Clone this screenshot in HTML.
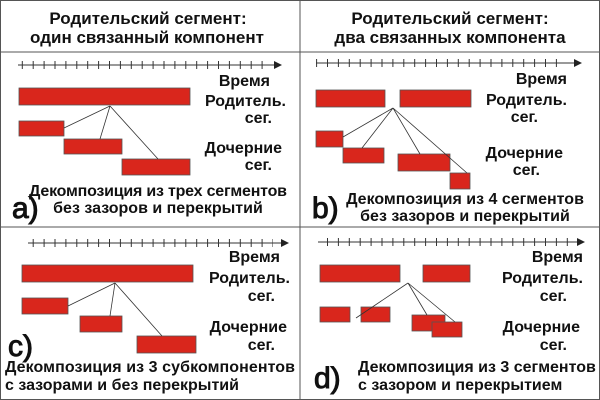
<!DOCTYPE html>
<html><head><meta charset="utf-8"><style>body{margin:0;background:#fff}svg{display:block}</style></head><body>
<svg width="600" height="400" viewBox="0 0 600 400" xmlns="http://www.w3.org/2000/svg" font-family="Liberation Sans, sans-serif" font-weight="bold" fill="#111">
<defs>
<pattern id="tk" width="10.9" height="10" patternUnits="userSpaceOnUse"><line x1="0.5" y1="0" x2="0.5" y2="10" stroke="#333" stroke-width="1"/></pattern>
</defs>
<rect x="0.5" y="0.5" width="599" height="399" fill="none" stroke="#555"/>
<line x1="300" y1="0" x2="300" y2="400" stroke="#555"/>
<line x1="0" y1="227" x2="600" y2="227" stroke="#555"/>
<line x1="0" y1="52" x2="600" y2="52" stroke="#555"/>
<g font-size="17" text-anchor="middle">
<text x="148" y="24">Родительский сегмент:</text>
<text x="147" y="43">один связанный компонент</text>
<text x="450" y="24">Родительский сегмент:</text>
<text x="450" y="43">два связанных компонента</text>
</g>
<g stroke="#333">
<line x1="18" y1="65" x2="275" y2="65"/><rect x="18" y="61" width="250" height="8" fill="url(#tk)" stroke="none"/>
<line x1="316" y1="63" x2="575" y2="63"/><rect x="316" y="59" width="250" height="8" fill="url(#tk)" stroke="none"/>
<line x1="28" y1="243" x2="282" y2="243"/><rect x="28" y="239" width="245" height="8" fill="url(#tk)" stroke="none"/>
<line x1="318" y1="242" x2="578" y2="242"/><rect x="318" y="238" width="250" height="8" fill="url(#tk)" stroke="none"/>
</g>
<g fill="#222"><path d="M282,65 l-8,-4 v8z"/><path d="M582,63 l-8,-4 v8z"/><path d="M289,243 l-8,-4 v8z"/><path d="M585,242 l-8,-4 v8z"/></g>
<g font-size="16" text-anchor="end">
<text x="270" y="86">Время</text><text x="286" y="106">Родитель.</text><text x="272" y="123">сег.</text><text x="282" y="153">Дочерние</text><text x="272" y="170">сег.</text>
<text x="567" y="84">Время</text><text x="567" y="105">Родитель.</text><text x="538" y="122">сег.</text><text x="563" y="158">Дочерние</text><text x="540" y="175">сег.</text>
<text x="280" y="262">Время</text><text x="290" y="283">Родитель.</text><text x="275" y="301">сег.</text><text x="287" y="332">Дочерние</text><text x="275" y="350">сег.</text>
<text x="583" y="262">Время</text><text x="583" y="283">Родитель.</text><text x="567" y="301">сег.</text><text x="580" y="332">Дочерние</text><text x="567" y="350">сег.</text>
</g>
<g fill="#d9261c" stroke="#555" stroke-width="0.8">
<rect x="19" y="88" width="171" height="17"/><rect x="19" y="121" width="45" height="15"/><rect x="64" y="139" width="58" height="15"/><rect x="122" y="159" width="68" height="16"/>
<rect x="316" y="90" width="69" height="17"/><rect x="400" y="90" width="71" height="17"/><rect x="316" y="131" width="27" height="16"/><rect x="343" y="148" width="41" height="15"/><rect x="398" y="154" width="52" height="17"/><rect x="450" y="173" width="20" height="16"/>
<rect x="22" y="265" width="171" height="17"/><rect x="22" y="298" width="46" height="16"/><rect x="80" y="316" width="42" height="16"/><rect x="137" y="336" width="59" height="17"/>
<rect x="320" y="265" width="80" height="17"/><rect x="423" y="265" width="47" height="17"/><rect x="320" y="307" width="30" height="15"/><rect x="361" y="307" width="29" height="15"/><rect x="412" y="315" width="33" height="16"/><rect x="432" y="322" width="30" height="15"/>
</g>
<g stroke="#333" stroke-width="0.8" fill="none">
<path d="M110,106 L64,128 M110,106 L100,139 M110,106 L158,159"/>
<path d="M393,108 L343,137 M393,108 L362,148 M393,108 L420,154 M393,108 L467,173"/>
<path d="M115,283 L68,306 M115,283 L110,316 M115,283 L162,336"/>
<path d="M408,283 L356,318 M408,283 L427,315 M408,283 L455,322"/>
</g>
<g font-size="16">
<text x="158" y="196" text-anchor="middle" textLength="258">Декомпозиция из трех сегментов</text>
<text x="158" y="213" text-anchor="middle">без зазоров и перекрытий</text>
<text x="465" y="204" text-anchor="middle">Декомпозиция из 4 сегментов</text>
<text x="465" y="221" text-anchor="middle">без зазоров и перекрытий</text>
<text x="5" y="372" textLength="290">Декомпозиция из 3 субкомпонентов</text>
<text x="5" y="390">с зазорами и без перекрытий</text>
<text x="358" y="372">Декомпозиция из 3 сегментов</text>
<text x="358" y="390">с зазором и перекрытием</text>
</g>
<g font-size="30" font-weight="normal" stroke="#111" stroke-width="1">
<text x="12" y="218">a)</text><text x="312" y="218">b)</text><text x="8" y="356">c)</text><text x="314" y="388">d)</text>
</g>
</svg>
</body></html>
